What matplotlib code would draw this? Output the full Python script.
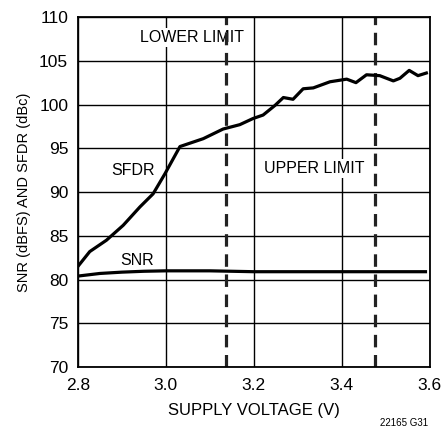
import matplotlib
matplotlib.use("Agg")
import matplotlib.pyplot as plt
from matplotlib import font_manager

names = {f.name for f in font_manager.fontManager.ttflist}
fam = "Liberation Sans Narrow" if "Liberation Sans Narrow" in names else "Liberation Sans"
plt.rcParams['font.family'] = [fam, 'DejaVu Sans']
plt.rcParams['lines.scale_dashes'] = False

# SFDR (dBc) vs supply voltage
sfdr_v = [2.800, 2.827, 2.865, 2.903, 2.941, 2.971, 2.998, 3.032, 3.085, 3.130,
          3.168, 3.198, 3.221, 3.248, 3.267, 3.289, 3.312, 3.335, 3.373, 3.411,
          3.432, 3.456, 3.486, 3.517, 3.532, 3.553, 3.573, 3.592]
sfdr_db = [81.5, 83.2, 84.5, 86.2, 88.3, 89.8, 92.1, 95.2, 96.1, 97.2,
           97.7, 98.4, 98.8, 99.9, 100.8, 100.6, 101.8, 101.9, 102.6, 102.9,
           102.5, 103.4, 103.3, 102.7, 103.0, 103.9, 103.3, 103.6]

# SNR (dBFS) vs supply voltage
snr_v = [2.80, 2.85, 2.90, 2.95, 3.00, 3.10, 3.20, 3.30, 3.40, 3.50, 3.59]
snr_db = [80.4, 80.7, 80.85, 80.95, 81.0, 81.0, 80.9, 80.9, 80.9, 80.9, 80.9]

limits = [3.136, 3.476]
xticks = [2.8, 3.0, 3.2, 3.4, 3.6]
yticks = [70, 75, 80, 85, 90, 95, 100, 105, 110]

fig = plt.figure(figsize=(4.45, 4.36), dpi=100)
ax = fig.add_axes([0.175, 0.158, 0.791, 0.803])

ax.set_xlim(2.8, 3.6)
ax.set_ylim(70, 110)
ax.set_xticks(xticks)
ax.set_xticklabels([f"{t:.1f}" for t in xticks])
ax.set_yticks(yticks)
ax.grid(True, color='black', linewidth=1.0)
ax.set_axisbelow(True)
ax.tick_params(length=0, labelsize=12.5, colors='black')
ax.tick_params(axis='y', pad=7)
ax.tick_params(axis='x', pad=8)
for s in ax.spines.values():
    s.set_linewidth(1.3)
    s.set_zorder(5)

for x in limits:
    ax.axvline(x, color='#222222', linewidth=2.3, dashes=(9, 5.5), zorder=2)

ax.plot(sfdr_v, sfdr_db, color='black', linewidth=2.3, zorder=3)
ax.plot(snr_v, snr_db, color='black', linewidth=2.3, zorder=3)

box = dict(facecolor='white', edgecolor='none', pad=1.5)
ax.text(3.059, 107.7, "LOWER LIMIT", ha='center', va='center', fontsize=11.5, bbox=box, zorder=1.5)
ax.text(3.338, 92.7, "UPPER LIMIT", ha='center', va='center', fontsize=11.5, bbox=box, zorder=1.5)
ax.text(2.925, 92.5, "SFDR", ha='center', va='center', fontsize=11.5, bbox=box, zorder=1.5)
ax.text(2.934, 82.2, "SNR", ha='center', va='center', fontsize=11.5, bbox=box, zorder=1.5)

ax.set_xlabel("SUPPLY VOLTAGE (V)", fontsize=12, labelpad=7)
ax.set_ylabel("SNR (dBFS) AND SFDR (dBc)", fontsize=10.5, labelpad=6)

fig.text(0.962, 0.030, "22165 G31", ha='right', va='center', fontsize=7)

fig.savefig("out.png", dpi=100)
